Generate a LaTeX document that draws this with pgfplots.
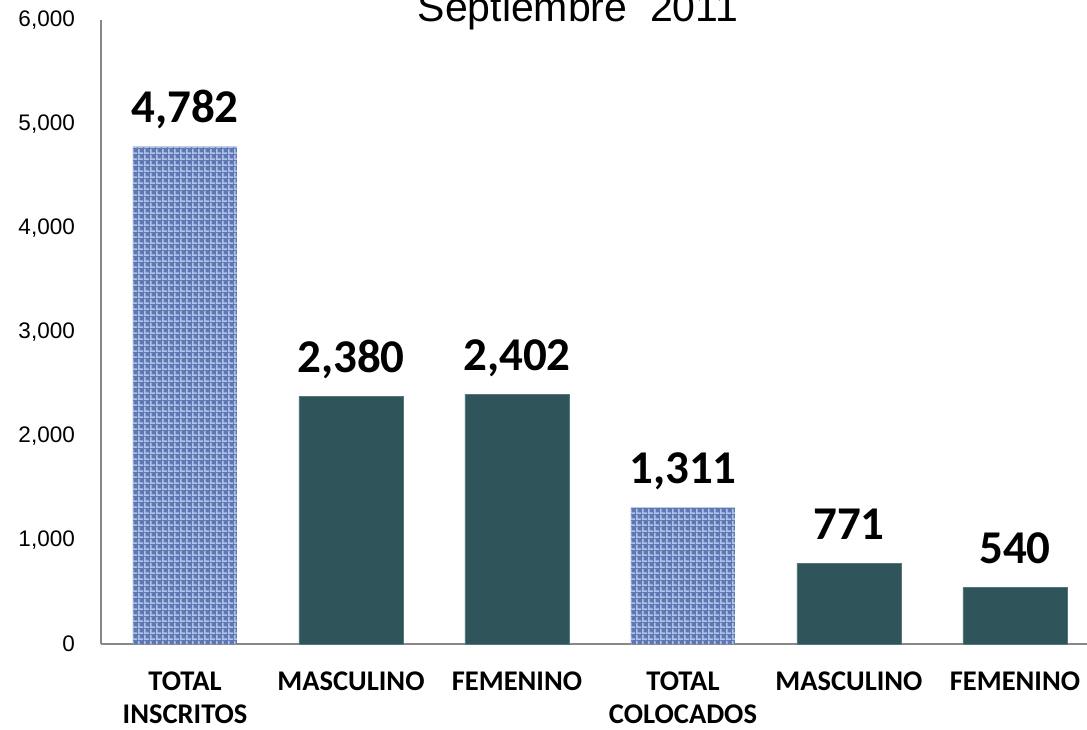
\documentclass[border=0pt]{standalone}
\usepackage{pgfplots}
\pgfplotsset{compat=1.18}
\usepackage{fontspec}
\setmainfont{Carlito}
\newfontfamily\arialf{Liberation Sans}
\usetikzlibrary{patterns}
\definecolor{tealbar}{RGB}{47,85,90}
\definecolor{tealedge}{RGB}{80,120,126}
\definecolor{bluebase}{RGB}{95,120,180}
\definecolor{bluelight}{RGB}{175,195,232}
\definecolor{axisgray}{RGB}{136,136,136}
\pgfdeclarepatternformonly{weave}{\pgfqpoint{0pt}{0pt}}{\pgfqpoint{6pt}{6pt}}{\pgfqpoint{6pt}{6pt}}{%
  \pgfpathrectangle{\pgfqpoint{0pt}{0pt}}{\pgfqpoint{6pt}{2pt}}%
  \pgfpathrectangle{\pgfqpoint{0pt}{2pt}}{\pgfqpoint{2pt}{4pt}}%
  \pgfusepath{fill}%
}
\begin{document}
\begin{tikzpicture}[x=1pt,y=1pt]
\path[use as bounding box] (0,0) rectangle (1087,729);
\begin{axis}[
  at={(101pt,85pt)}, anchor=south west,
  scale only axis, width=986pt, height=624pt,
  xmin=-0.506, xmax=5.434, ymin=0, ymax=6000,
  axis x line*=bottom, axis y line*=left,
  axis line style={draw=axisgray, line width=1.8pt},
  separate axis lines,
  x axis line style={-}, y axis line style={-},
  ytick={0,1000,2000,3000,4000,5000,6000},
  major tick length=0pt,
  /pgf/number format/assume math mode=true,
  /pgf/number format/1000 sep={,},
  yticklabel style={font=\arialf\fontsize{22.5}{26}\selectfont, anchor=east, inner sep=0pt, xshift=-26pt},
  xtick={0,1,2,3,4,5},
  xticklabels={TOTAL\\INSCRITOS, MASCULINO, FEMENINO, TOTAL\\COLOCADOS, MASCULINO, FEMENINO},
  xticklabel style={font=\bfseries\fontsize{28.5}{33}\selectfont, align=center, anchor=north, inner sep=0pt, yshift=-28pt},
  ybar, bar width=104pt, bar shift=0pt,
  nodes near coords={\pgfmathprintnumber{\pgfplotspointmeta}},
  every node near coord/.style={font=\bfseries\fontsize{47}{50}\selectfont, anchor=base, inner sep=0pt, yshift=24pt, black},
  clip=false,
]
\addplot[fill=bluebase, draw=none, postaction={pattern=weave, pattern color=bluelight}] coordinates {(0,4782) (3,1311)};
\addplot[fill=tealbar, draw=tealedge, line width=0.8pt] coordinates {(1,2380) (2,2402) (4,771) (5,540)};
\end{axis}
\node[anchor=base, font=\arialf\fontsize{41}{45}\selectfont, inner sep=0pt] at (578,707) {Septiembre~~2011};
\end{tikzpicture}
\end{document}
